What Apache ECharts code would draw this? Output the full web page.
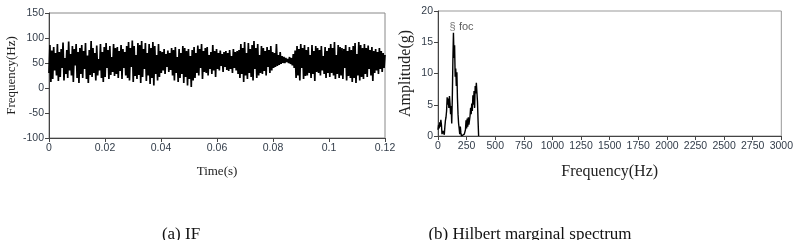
<!DOCTYPE html>
<html lang="en">
<head>
<meta charset="UTF-8">
<title>IF and Hilbert marginal spectrum</title>
<script src="https://cdn.jsdelivr.net/npm/echarts@6/dist/echarts.min.js"></script>
<style>
  body { margin: 0; background: #fff; }
  #chart { width: 796px; height: 240px; }
</style>
</head>
<body>
<div id="chart"></div>
<script>
// instantaneous frequency samples (Hz), evenly spaced over 0..0.12 s
var ifValues = [
  30,86,12,75,18,82,35,70,25,88,14,72,
  22,78,40,91,15,60,28,76,20,93,35,68,
  25,84,12,78,45,88,20,72,10,80,28,86,
  20,74,38,90,18,65,10,76,26,94,22,80,
  30,70,15,85,25,58,35,88,20,72,12,82,
  22,90,40,76,18,84,26,62,32,88,24,80,
  28,82,20,74,34,86,18,78,40,72,25,84,
  20,92,15,80,42,95,12,84,24,66,18,90,
  26,86,10,94,22,78,38,90,14,70,25,88,
  8,80,20,92,5,84,28,66,15,88,22,74,
  30,72,35,78,28,68,42,75,32,70,36,80,
  25,76,15,82,30,62,12,78,20,70,28,84,
  10,80,22,74,5,78,18,64,2,76,15,82,
  20,70,30,85,25,78,40,88,18,74,32,80,
  30,82,25,66,38,72,28,86,35,74,22,78,
  38,70,35,75,44,68,32,72,42,74,36,70,
  34,76,38,64,30,78,40,72,35,74,28,76,
  20,88,28,80,12,92,25,70,18,90,30,78,
  22,86,15,94,38,80,20,88,25,66,30,84,
  28,80,34,74,25,82,42,76,30,84,35,72,
  40,70,42,88,44,66,46,72,48,64,50,62,
  50,60,52,58,50,62,48,60,45,68,40,75,
  20,84,25,78,15,88,40,80,18,86,24,76,
  25,82,30,66,20,86,28,74,14,84,32,80,
  30,76,25,84,35,64,28,82,20,74,30,80,
  22,88,30,80,25,92,18,66,28,86,20,82,
  25,80,18,78,40,86,15,74,24,82,20,76,
  12,84,20,90,10,68,25,92,15,86,22,80,
  18,88,28,80,22,85,38,76,25,82,14,74,
  30,78,35,72,28,80,38,74,32,70,40,66
];
var ifDuration = 0.12;

// Hilbert marginal spectrum
var specFreq = [0,5,10,15,20,25,30,35,40,45,50,55,60,65,70,75,80,85,90,95,
  100,105,110,115,120,125,130,135,140,145,150,155,160,165,170,175,180,185,190,195,
  200,205,210,215,220,225,230,235,240,245,250,255,260,265,270,275,280,285,290,295,
  300,305,310,315,320,325,330,335,340,345,350,355,360];
var specAmp = [1.0,1.8,1.2,2.2,1.5,2.6,1.8,0.3,0,0.8,1.0,0.2,1.5,2.5,3.0,4.0,6.2,5.0,6.0,4.5,
  6.4,5.2,3.5,4.8,2.0,6.0,12.0,16.5,12.5,14.5,9.5,10.8,8.0,10.2,6.0,3.5,2.0,1.2,0.3,1.5,
  0.5,0,0,0.2,0,0,0.3,0,1.0,2.5,1.2,2.8,1.5,3.0,1.8,2.5,3.2,4.5,3.5,5.2,
  4.0,6.5,5.0,7.2,4.5,8.0,6.8,8.5,7.0,5.5,2.5,0,0];
var cursorPoint = [135, 17.4];

var ifData = ifValues.map(function (v, i) {
  return [i * ifDuration / (ifValues.length - 1), v];
});
var specData = specFreq.map(function (f, i) { return [f, specAmp[i]]; });

var tickColor = '#333d4a';
var serif = '"Liberation Serif", "Times New Roman", serif';
var sans = '"Liberation Sans", Arial, sans-serif';

function axisBase(extra) {
  var a = {
    axisLine: { show: true, onZero: false, lineStyle: { color: '#444', width: 1 } },
    axisTick: { show: true, inside: false, length: 4, lineStyle: { color: '#444' } },
    axisLabel: { color: tickColor, fontFamily: sans, fontSize: 10.5, margin: 5,
      showMaxLabel: true, showMinLabel: true, hideOverlap: false,
      formatter: function (v) { return String(v); } },
    splitLine: { show: false }
  };
  for (var k in extra) a[k] = extra[k];
  return a;
}

var chart = echarts.init(document.getElementById('chart'));
chart.setOption({
  animation: false,
  title: [
    { text: '(a) IF', left: 176, top: 221, textAlign: 'center',
      textStyle: { fontFamily: serif, fontSize: 17, fontWeight: 'normal', color: '#111' } },
    { text: '(b) Hilbert marginal spectrum', left: 525, top: 221, textAlign: 'center',
      textStyle: { fontFamily: serif, fontSize: 17, fontWeight: 'normal', color: '#111' } }
  ],
  grid: [
    { left: 49, top: 13, width: 336, height: 125, show: true, borderColor: '#888', borderWidth: 1 },
    { left: 438, top: 11, width: 345, height: 125, show: true, borderColor: '#999', borderWidth: 1 }
  ],
  xAxis: [
    axisBase({ type: 'value', gridIndex: 0, min: 0, max: 0.12, interval: 0.02,
      name: 'Time(s)', nameLocation: 'middle', nameGap: 27,
      nameTextStyle: { fontFamily: serif, fontSize: 13, color: '#222' } }),
    axisBase({ type: 'value', gridIndex: 1, min: 0, max: 3000, interval: 250,
      name: 'Frequency(Hz)', nameLocation: 'middle', nameGap: 28,
      nameTextStyle: { fontFamily: serif, fontSize: 16, color: '#222' } })
  ],
  yAxis: [
    axisBase({ type: 'value', gridIndex: 0, min: -100, max: 150, interval: 50,
      name: 'Frequency(Hz)', nameLocation: 'middle', nameGap: 31,
      nameTextStyle: { fontFamily: serif, fontSize: 13, color: '#222' } }),
    axisBase({ type: 'value', gridIndex: 1, min: 0, max: 20, interval: 5,
      name: 'Amplitude(g)', nameLocation: 'middle', nameGap: 24,
      nameTextStyle: { fontFamily: serif, fontSize: 16, color: '#222' } })
  ],
  series: [
    { type: 'line', xAxisIndex: 0, yAxisIndex: 0, data: ifData, showSymbol: false,
      lineStyle: { color: '#000', width: 1.7 } },
    { type: 'line', xAxisIndex: 1, yAxisIndex: 1, data: specData, showSymbol: false,
      lineStyle: { color: '#000', width: 1.4 } },
    { type: 'scatter', xAxisIndex: 1, yAxisIndex: 1, data: [cursorPoint], symbolSize: 0,
      label: { show: true, position: 'inside', formatter: '{g|§} {t|foc}', align: 'left',
        offset: [-4, 0],
        rich: { g: { fontFamily: sans, fontSize: 11, color: '#555' },
                t: { fontFamily: sans, fontSize: 11, color: '#333' } } } }
  ]
});
</script>
</body>
</html>
